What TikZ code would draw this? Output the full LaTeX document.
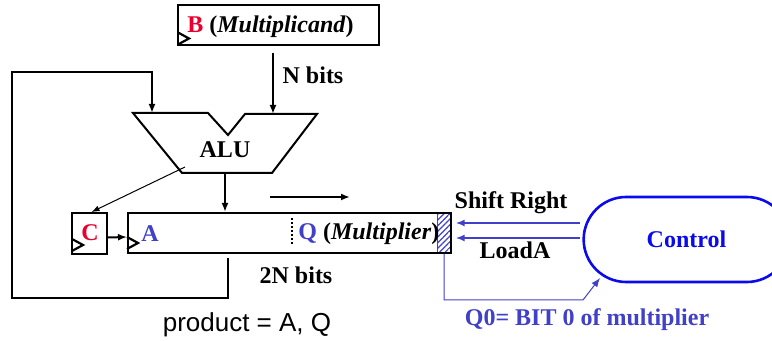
\documentclass[tikz,border=0pt]{standalone}
\usepackage{fontspec}
\setmainfont{Liberation Serif}
\newfontfamily\arialfont{Liberation Sans}
\usetikzlibrary{arrows.meta,patterns.meta,shapes.misc}

\definecolor{regred}{RGB}{235,0,45}
\definecolor{regblue}{RGB}{64,64,200}
\definecolor{ctrlblue}{RGB}{10,10,235}

\begin{document}
\begin{tikzpicture}[x=0.5pt,y=-0.5pt,
  reg/.style={draw,line width=1pt,inner sep=0pt},
  lbl/.style={font=\fontsize{12}{14}\selectfont\bfseries,inner sep=0pt},
  wire/.style={line width=1pt,-{Latex[length=4.5pt,width=3.5pt]}},
  bwire/.style={draw=regblue,line width=0.9pt,-{Latex[length=4.5pt,width=3.5pt]}},
  clock/.pic={\draw[line width=1.1pt] (0,-6) -- (11,0) -- (0,6);}]
\useasboundingbox (0,0) rectangle (772,341);
\clip (0,0) rectangle (772,341);

%%%
% registers
\node[pattern={Lines[angle=45,distance=2pt,line width=0.6pt]},pattern color=regblue,
  draw=regblue,minimum width=7pt,minimum height=20pt,inner sep=0pt] (hatch) at (444,233) {};
\node[reg,minimum width=100.5pt,minimum height=20pt] (regB) at (278.5,25) {};
\node[reg,minimum width=17.5pt,minimum height=20.5pt] (regC) at (89.5,233.5) {};
\node[reg,minimum width=161.5pt,minimum height=20pt] (regA) at (289.5,233) {};
\pic at ([shift={(1,-7.5)}]regB.south west) {clock};
\pic at ([shift={(1,-10)}]regC.south west) {clock};
\pic at ([shift={(0,-11)}]regA.south west) {clock};
\draw[line width=1pt,dash pattern=on 1pt off 1pt] (292,218) -- (292,246);

%%%
% alu
\draw[line width=1pt] (133,113) -- (208,113) -- (228,135) -- (245,114) -- (317,114)
  -- (272,173) -- (182,173) -- cycle;
\coordinate (aluL) at (152,113);
\coordinate (aluR) at (273,114);
\coordinate (aluB) at (225,173);
\coordinate (aluC) at (185,167);
\coordinate (fbA) at (228,258);

%%%
% control
\node[rounded rectangle,draw=ctrlblue,line width=1.3pt,minimum width=109.5pt,
  minimum height=42.5pt,text=ctrlblue,font=\fontsize{12}{14}\selectfont\bfseries]
  (ctrl) at (686.5,239.5) {Control};
\coordinate (srOut) at (580,223);
\coordinate (ldOut) at (580,238);
\coordinate (q0In) at (600,278);

%%%
% labels
\node[lbl] (txtB) at (270.5,27) {\textcolor{regred}{B} (\textit{Multiplicand})};
\node[lbl] (nbits) at (313,75) {N bits};
\node[lbl] (alu) at (225,150) {ALU};
\node[lbl,text=regred] (txtC) at (90,233) {C};
\node[lbl,text=regblue] (txtA) at (150,234) {A};
\node[lbl,anchor=west] (txtQ) at (298,234) {\textcolor{regblue}{Q} (\textit{Multiplier})};
\node[lbl] (bits2n) at (296,275) {2N bits};
\node[font=\arialfont\fontsize{13}{15}\selectfont,inner sep=0pt] (prod) at (247,325) {product = A, Q};
\node[lbl] (shr) at (511,203) {Shift Right};
\node[lbl] (lda) at (515,250) {LoadA};
\node[lbl,text=regblue] (q0) at (587,320) {Q0= BIT 0 of multiplier};

%%%
% wires
\draw[wire] (regB.south -| aluR) ++(0,7) -- (aluR);
\draw[wire] (fbA) -- ++(0,40) -| (12,72) -| (aluL);
\draw[wire] (aluB) -- (aluB |- regA.north);
\draw[line width=0.5pt,-{Latex[length=4pt,width=3pt]}] (aluC) -- ([xshift=1pt]regC.north);
\draw[wire] ([yshift=-2pt]regC.east) -- ([yshift=-2pt]regA.west);
\draw[wire] (270,197) -- (350,197);
\draw[bwire,shorten >=2pt] (srOut) -- (srOut -| hatch.east);
\draw[bwire,shorten >=2pt] (ldOut) -- (ldOut -| hatch.east);
\draw[bwire,line width=0.5pt] (hatch.south) |- (583,300) -- (q0In);
\end{tikzpicture}
\end{document}
